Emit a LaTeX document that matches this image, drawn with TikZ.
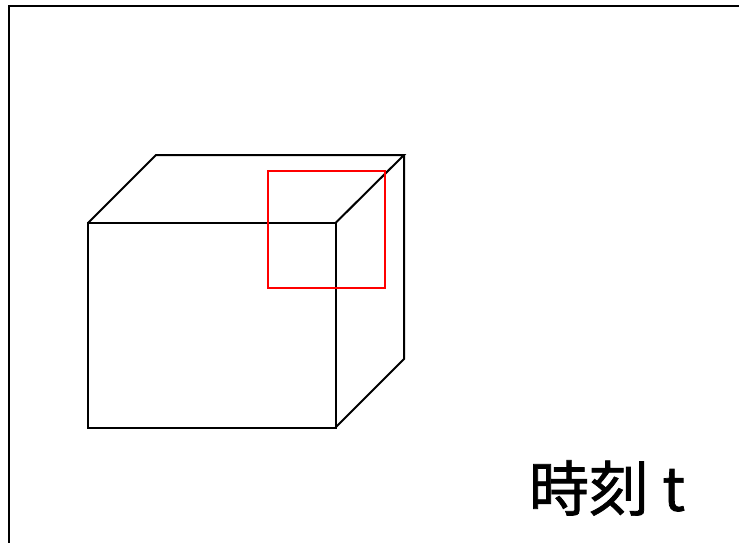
\documentclass[tikz,border=0pt]{standalone}
\usepackage{fontspec}
\newfontfamily\cjk[FakeBold=1.2]{Noto Sans CJK JP}
\begin{document}
\begin{tikzpicture}[x=1pt,y=-1pt,
  edge/.style={draw=black,line width=2pt,line join=miter},
  redbox/.style={draw=red,line width=2pt,line join=miter}]
\useasboundingbox (0,0) rectangle (739,543);
% frame
\draw[edge] (8.5,545) -- (8.5,6.5) -- (741,6.5);
% cube
\coordinate (A) at (88,223);
\coordinate (B) at (335.5,223);
\coordinate (C) at (335.5,427.5);
\coordinate (D) at (88,427.5);
\coordinate (E) at (156,155);
\coordinate (F) at (404,155);
\coordinate (G) at (404,359);
\draw[edge] (A) -- (B) -- (C) -- (D) -- cycle;
\draw[edge] (A) -- (E) -- (F) -- (B);
\draw[edge] (F) -- (G) -- (C);
% red box
\coordinate (R1) at (267.5,171);
\coordinate (R2) at (385,171);
\coordinate (R3) at (385,287.5);
\coordinate (R4) at (267.5,287.5);
\draw[redbox] (R1) -- (R2) -- (R3) -- (R4) -- cycle;
% label
\node[anchor=center,inner sep=0pt,font=\cjk\fontsize{60}{62}\selectfont] (lbl) at (607,488) {時刻 t};
\end{tikzpicture}
\end{document}
